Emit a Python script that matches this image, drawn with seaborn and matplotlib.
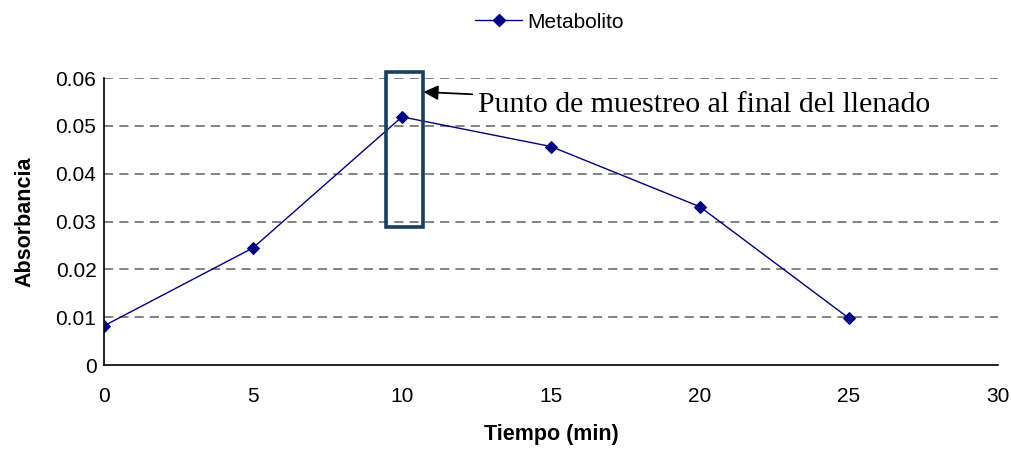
import numpy as np
import pandas as pd
import matplotlib
matplotlib.use('Agg')
import matplotlib.pyplot as plt
import seaborn as sns
from matplotlib.patches import Rectangle

# Datos
tiempo = [0, 5, 10, 15, 20, 25]
absorbancia = [0.0082, 0.0245, 0.0519, 0.0457, 0.0331, 0.0098]
serie = 'Metabolito'
nota = 'Punto de muestreo al final del llenado'
y_ticks = [0, 0.01, 0.02, 0.03, 0.04, 0.05, 0.06]
y_labels = ['0', '0.01', '0.02', '0.03', '0.04', '0.05', '0.06']

df = pd.DataFrame({'Tiempo': tiempo, 'Absorbancia': absorbancia, 'Serie': serie})

sns.set_style('white')
plt.rcParams['font.family'] = ['Liberation Sans', 'DejaVu Sans']
plt.rcParams['text.color'] = 'black'
plt.rcParams['axes.labelcolor'] = 'black'
plt.rcParams['xtick.color'] = 'black'
plt.rcParams['ytick.color'] = 'black'

fig = plt.figure(figsize=(10.12, 4.49), dpi=100)
ax = fig.add_axes([0.1028, 0.187, 0.8832, 0.639])

sns.lineplot(data=df, x='Tiempo', y='Absorbancia', hue='Serie', palette=['#000080'],
             marker='D', markersize=6.5, markeredgecolor='#000080', linewidth=1.0,
             ax=ax, legend=False)

ax.set_xlim(0, 30)
ax.set_ylim(0, 0.06)
ax.set_xticks(range(0, 31, 5))
ax.set_yticks(y_ticks)
ax.set_yticklabels(y_labels)
ax.tick_params(axis='both', labelsize=15, direction='out', length=4.5, width=1,
               colors='black', labelcolor='black')
ax.tick_params(axis='x', pad=11)
ax.tick_params(axis='y', pad=1)

# lineas de division horizontales
for v in y_ticks[1:]:
    ax.axhline(v, color='#606060', linestyle=(0, (6, 4)), linewidth=1.1, zorder=0)

for s in ['top', 'right']:
    ax.spines[s].set_visible(False)
for s in ['left', 'bottom']:
    ax.spines[s].set_color('black')
    ax.spines[s].set_linewidth(1.2)

ax.set_xlabel('Tiempo (min)', fontsize=15.5, fontweight='bold', color='black')
ax.set_ylabel('Absorbancia', fontsize=15.5, fontweight='bold', color='black')
ax.xaxis.set_label_coords(0.5, -0.2056)
ax.yaxis.set_label_coords(-0.077, 0.5)

# Recuadro y anotacion
box = Rectangle((9.47, 0.0289), 1.25, 0.0324, fill=False, edgecolor='#173E5E',
                linewidth=2.6, clip_on=False, zorder=5)
ax.add_patch(box)
ax.annotate(nota, xy=(10.72, 0.0571), xytext=(12.56, 0.0529), color='black',
            fontsize=21.5, family=['Liberation Serif'], va='baseline', ha='left',
            arrowprops=dict(arrowstyle='-|>', color='black', lw=1.3, mutation_scale=22,
                            shrinkA=2, shrinkB=0))

# Leyenda arriba
h, = ax.plot([], [], color='#000080', marker='D', markersize=6.5, linewidth=1.0)
fig.legend([h], [serie], loc='center left', bbox_to_anchor=(0.4694, 0.951), frameon=False,
           fontsize=15, handlelength=2.26, handletextpad=0.24, borderpad=0, borderaxespad=0,
           labelcolor='black')

fig.savefig('out.png', dpi=100)
